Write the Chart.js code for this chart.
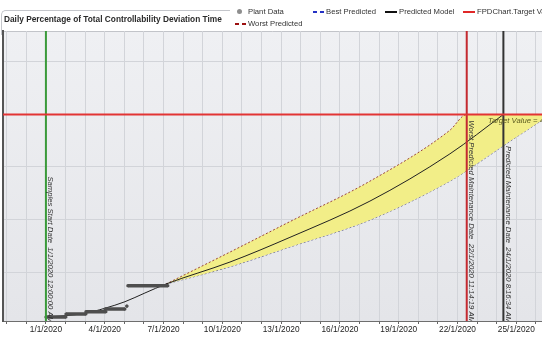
<!DOCTYPE html>
<html>
<head>
<meta charset="utf-8">
<script src="https://cdn.jsdelivr.net/npm/chart.js@4.4.1/dist/chart.umd.min.js"></script>
<style>
  html, body { margin: 0; padding: 0; background: #fff; }
  #wrap { position: relative; width: 542px; height: 340px; overflow: hidden; font-family: "Liberation Sans", Arial, sans-serif; }
  #tab { position: absolute; left: 1px; top: 10px; width: 228px; height: 24px; border-left: 1px solid #c4c6cb; border-top: 1px solid #c4c6cb; border-top-left-radius: 5px; }
  #chart { position: absolute; left: 0; top: 0; }
  .title { position: absolute; left: 4px; top: 14px; font-size: 8.3px; line-height: 10px; font-weight: bold; color: #2a2a2a; white-space: nowrap; }
  .lg { position: absolute; font-size: 7.7px; line-height: 10px; color: #333; white-space: nowrap; }
  .sw { position: absolute; height: 2px; }
  .dot { position: absolute; width: 5px; height: 5px; border-radius: 50%; background: #8e8e8e; }
</style>
</head>
<body>
<div id="wrap">
  <div id="tab"></div>
  <canvas id="chart" width="542" height="340"></canvas>
  <div class="title">Daily Percentage of Total Controllability Deviation Time</div>

  <span class="dot" style="left:237px; top:9px;"></span>
  <span class="lg" style="left:248px; top:7px;">Plant Data</span>
  <span class="sw" style="left:313px; top:11px; width:11px; background:repeating-linear-gradient(90deg,#2431c4 0 4px,transparent 4px 7px);"></span>
  <span class="lg" style="left:326px; top:7px;">Best Predicted</span>
  <span class="sw" style="left:385px; top:11px; width:12px; background:#111;"></span>
  <span class="lg" style="left:399px; top:7px;">Predicted Model</span>
  <span class="sw" style="left:463px; top:11px; width:12px; background:#e02828;"></span>
  <span class="lg" style="left:477px; top:7px;">FPDChart.Target Value</span>
  <span class="sw" style="left:235px; top:23px; width:11px; background:repeating-linear-gradient(90deg,#9c1010 0 4px,transparent 4px 7px);"></span>
  <span class="lg" style="left:248px; top:19px;">Worst Predicted</span>
</div>

<script>
// x values are days counted from 1/1/2020
const xTickDays = [0, 3, 6, 9, 12, 15, 18, 21, 24];
const xTickLabels = ['1/1/2020', '4/1/2020', '7/1/2020', '10/1/2020', '13/1/2020', '16/1/2020', '19/1/2020', '22/1/2020', '25/1/2020'];
const yGridValues = [10, 20, 30, 40, 50];

// plant data: flat runs of readings (start day, end day, value)
const plantStart = [0, 1.02, 2.04, 3.01, 4.13, 4.18];
const plantEnd = [1.02, 2.04, 3.06, 4.03, 4.13, 6.22];
const plantValues = [1.43, 2.0, 2.44, 2.95, 3.52, 7.4];

const modelDays = [0, 1.99, 3.0, 4.03, 5.05, 6.12, 9.39, 12.45, 16.53, 20.61, 23.34];
const modelValues = [1.37, 2.13, 3.09, 4.34, 6.0, 7.7, 11.9, 16.6, 23.5, 32.5, 40];

const bandDays = [6.12, 9.39, 12.45, 16.53, 20.61, 21.47, 23.52, 25.31];
const worstValues = [7.7, 13.8, 19.6, 27.3, 37.0, 40, 40, 40];
const bestValues = [7.7, 11.0, 14.76, 19.9, 27.3, 29.3, 34.5, 38.9];

const targetValue = 40;
const targetLabel = 'Target Value = 40';

const markerDays = [0, 21.47, 23.34];
const markerLabels = [
    'Samples Start Date  1/1/2020 12:00:00 AM',
    'Worst Predicted Maintenance Date  22/1/2020 11:14:19 AM',
    'Predicted Maintenance Date  24/1/2020 8:16:34 AM'
];
const markerColors = ['#3a9a3a', '#c42a30', '#333333'];

const xMin = -2.19, xMax = 25.31;
const yMin = 0.67, yMax = 55.9;

const plantData = [];
plantStart.forEach((s, i) => {
    plantData.push({ x: s, y: plantValues[i] });
    plantData.push({ x: plantEnd[i], y: plantValues[i] });
    plantData.push({ x: plantEnd[i], y: null });
});

const zip = (xs, ys) => xs.map((x, i) => ({ x: x, y: ys[i] }));

const markerSets = markerDays.map((d, i) => ({
    label: markerLabels[i],
    data: [{ x: d, y: yMin }, { x: d, y: yMax }],
    borderColor: markerColors[i],
    borderWidth: 2,
    pointRadius: 0,
    fill: false,
    order: 1
}));

// plot background, marker captions and target caption
const decor = {
    id: 'decor',
    beforeDraw(chart) {
        const { ctx, chartArea: a } = chart;
        const g = ctx.createLinearGradient(0, a.top, 0, a.bottom);
        g.addColorStop(0, '#eff0f3');
        g.addColorStop(1, '#e4e5e9');
        ctx.save();
        ctx.fillStyle = g;
        ctx.fillRect(a.left, a.top, a.right - a.left, a.bottom - a.top);
        ctx.strokeStyle = '#c2c4c9';
        ctx.lineWidth = 1;
        ctx.beginPath();
        ctx.moveTo(a.left, a.top + 0.5);
        ctx.lineTo(a.right, a.top + 0.5);
        ctx.stroke();
        ctx.restore();
    },
    afterDatasetsDraw(chart) {
        const { ctx, chartArea: a, scales: { x, y } } = chart;
        ctx.save();
        ctx.beginPath();
        ctx.rect(a.left, a.top, a.right - a.left, a.bottom - a.top);
        ctx.clip();
        ctx.font = 'italic 7.7px "Liberation Sans", Arial, sans-serif';
        ctx.fillStyle = '#333';
        markerDays.forEach((d, i) => {
            ctx.save();
            ctx.translate(x.getPixelForValue(d) + 2.5, a.bottom + 2);
            ctx.rotate(Math.PI / 2);
            ctx.textAlign = 'right';
            ctx.textBaseline = 'alphabetic';
            ctx.fillText(markerLabels[i], 0, 0);
            ctx.restore();
        });
        ctx.fillStyle = '#5b5a1e';
        ctx.textAlign = 'left';
        ctx.textBaseline = 'middle';
        ctx.fillText(targetLabel, x.getPixelForValue(22.55), y.getPixelForValue(targetValue) + 6.5);
        ctx.restore();
    }
};

const dayGrid = [];
for (let d = -2; d <= 25; d += 1) dayGrid.push(d);

new Chart(document.getElementById('chart'), {
    type: 'line',
    data: {
        datasets: [
            {
                label: 'FPDChart.Target Value',
                data: [{ x: xMin, y: targetValue }, { x: xMax, y: targetValue }],
                borderColor: '#e23434',
                borderWidth: 2,
                pointRadius: 0,
                fill: false,
                order: 0
            },
            ...markerSets,
            {
                label: 'Plant Data',
                data: plantData,
                borderColor: '#4e4e4e',
                borderWidth: 3.5,
                borderCapStyle: 'butt',
                pointRadius: 1.6,
                pointBorderWidth: 0,
                pointBackgroundColor: '#4e4e4e',
                spanGaps: false,
                fill: false,
                order: 2
            },
            {
                label: 'Predicted Model',
                data: zip(modelDays, modelValues),
                borderColor: '#222',
                borderWidth: 1,
                pointRadius: 0,
                cubicInterpolationMode: 'monotone',
                fill: false,
                order: 3
            },
            {
                label: 'Worst Predicted',
                data: zip(bandDays, worstValues),
                borderColor: 'rgba(140,40,40,0.85)',
                borderDash: [2, 2],
                borderWidth: 1,
                pointRadius: 0,
                cubicInterpolationMode: 'monotone',
                backgroundColor: '#f2ee88',
                fill: '+1',
                order: 4
            },
            {
                label: 'Best Predicted',
                data: zip(bandDays, bestValues),
                borderColor: 'rgba(60,60,130,0.85)',
                borderDash: [2, 2],
                borderWidth: 1,
                pointRadius: 0,
                cubicInterpolationMode: 'monotone',
                fill: false,
                order: 4
            }
        ]
    },
    options: {
        responsive: false,
        animation: false,
        devicePixelRatio: 1,
        layout: { autoPadding: false, padding: { left: 3, top: 31, right: 0, bottom: 0 } },
        plugins: { legend: { display: false }, tooltip: { enabled: false } },
        scales: {
            x: {
                type: 'linear',
                min: xMin,
                max: xMax,
                afterBuildTicks: (scale) => { scale.ticks = dayGrid.map((v) => ({ value: v })); },
                afterFit: (scale) => {
                    scale.height = 19;
                    scale.paddingLeft = 0;
                    scale.paddingRight = 0;
                },
                ticks: {
                    autoSkip: false,
                    maxRotation: 0,
                    padding: 1,
                    color: '#222',
                    font: { family: '"Liberation Sans", Arial, sans-serif', size: 8.3 },
                    callback: (v) => {
                        const i = xTickDays.indexOf(v);
                        return i >= 0 ? xTickLabels[i] : '';
                    }
                },
                grid: { color: '#d2d4d9', tickColor: '#666', tickLength: 3 },
                border: { color: '#6e6e6e', width: 1 }
            },
            y: {
                min: yMin,
                max: yMax,
                afterBuildTicks: (scale) => { scale.ticks = yGridValues.map((v) => ({ value: v })); },
                afterFit: (scale) => { scale.width = 0; },
                ticks: { display: false },
                grid: { color: '#d2d4d9', drawTicks: false },
                border: { color: '#555', width: 2 }
            }
        }
    },
    plugins: [decor]
});
</script>
</body>
</html>
